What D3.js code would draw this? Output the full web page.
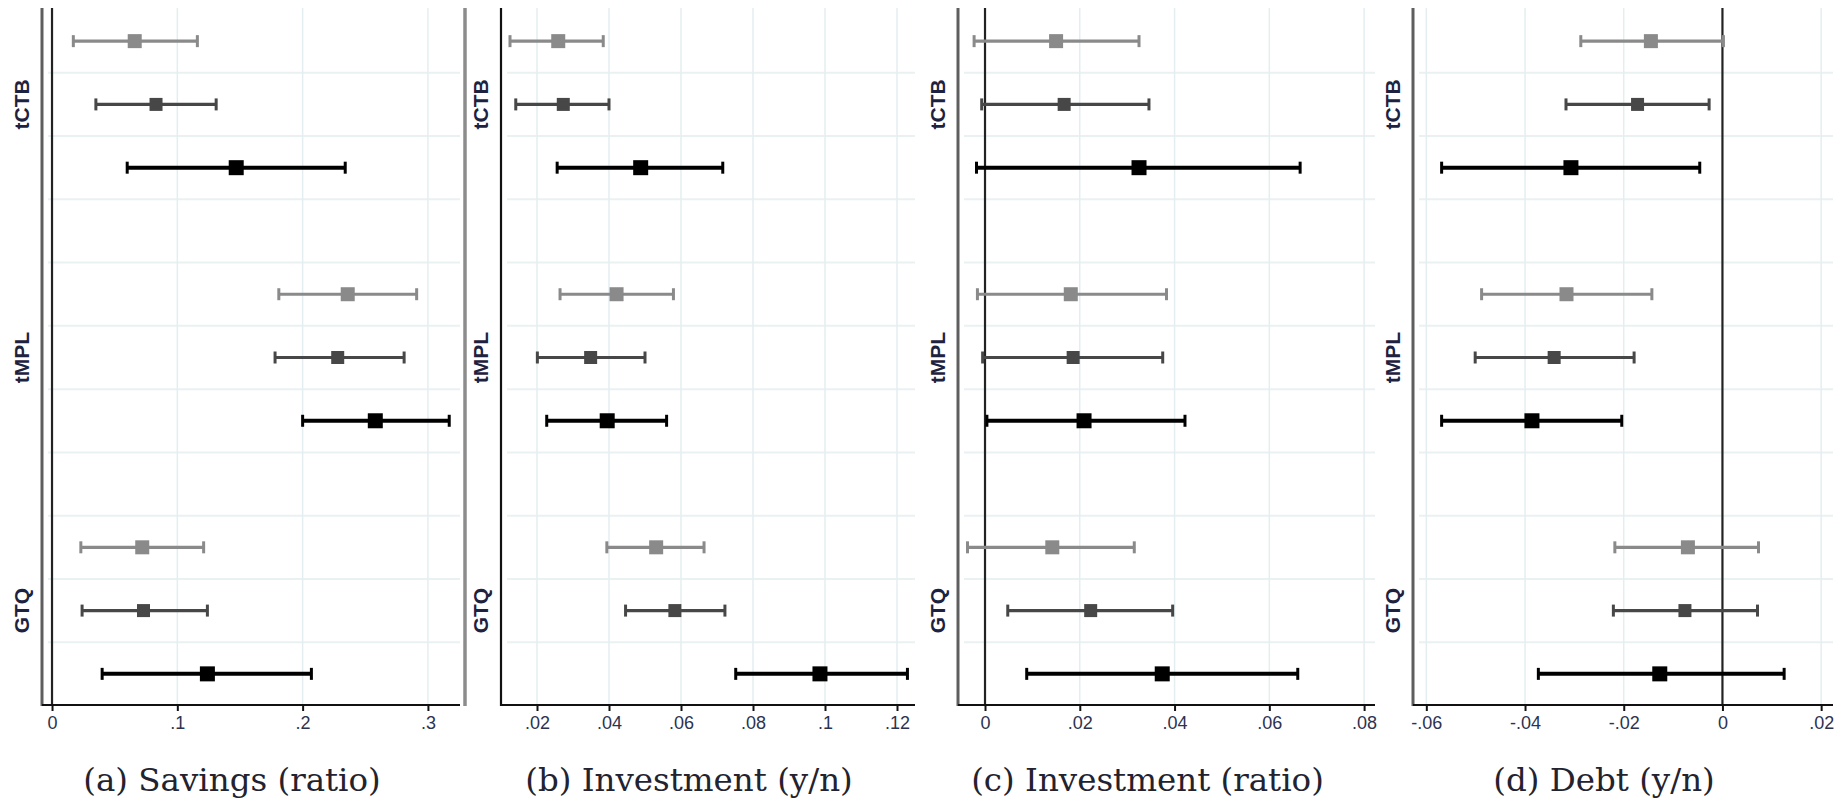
<!DOCTYPE html>
<html>
<head>
<meta charset="utf-8">
<script src="https://cdn.jsdelivr.net/npm/d3@7"></script>
<style>
  html, body { margin: 0; padding: 0; background: #fff; }
  svg { display: block; }
</style>
</head>
<body>
<svg id="chart" width="1846" height="803"></svg>
<script>
// Treatment groups (rows) and the three specifications shown inside each group
const groups = ["tCTB", "tMPL", "GTQ"];
const specs = ["spec1", "spec2", "spec3"];

// (a) Savings (ratio)
const savingsEst = [0.066, 0.083, 0.147, 0.236, 0.228, 0.258, 0.072, 0.073, 0.124];
const savingsLo  = [0.017, 0.035, 0.060, 0.181, 0.178, 0.200, 0.023, 0.024, 0.040];
const savingsHi  = [0.116, 0.131, 0.234, 0.291, 0.281, 0.317, 0.121, 0.124, 0.207];
const savingsTicks  = [0, 0.1, 0.2, 0.3];
const savingsLabels = ["0", ".1", ".2", ".3"];

// (b) Investment (y/n)
const invYnEst = [0.0259, 0.0273, 0.0488, 0.0421, 0.0349, 0.0395, 0.0531, 0.0583, 0.0986];
const invYnLo  = [0.0125, 0.0141, 0.0256, 0.0264, 0.0201, 0.0227, 0.0394, 0.0446, 0.0752];
const invYnHi  = [0.0384, 0.0400, 0.0716, 0.0579, 0.0500, 0.0560, 0.0664, 0.0722, 0.1229];
const invYnTicks  = [0.02, 0.04, 0.06, 0.08, 0.1, 0.12];
const invYnLabels = [".02", ".04", ".06", ".08", ".1", ".12"];

// (c) Investment (ratio)
const invRatioEst = [0.0150, 0.0167, 0.0325, 0.0181, 0.0186, 0.0209, 0.0142, 0.0223, 0.0374];
const invRatioLo  = [-0.0023, -0.0007, -0.0018, -0.0016, -0.0005, 0.0004, -0.0037, 0.0048, 0.0088];
const invRatioHi  = [0.0325, 0.0346, 0.0665, 0.0383, 0.0375, 0.0422, 0.0315, 0.0396, 0.0660];
const invRatioTicks  = [0, 0.02, 0.04, 0.06, 0.08];
const invRatioLabels = ["0", ".02", ".04", ".06", ".08"];

// (d) Debt (y/n)
const debtEst = [-0.0145, -0.0172, -0.0307, -0.0316, -0.0341, -0.0386, -0.0070, -0.0076, -0.0127];
const debtLo  = [-0.0287, -0.0317, -0.0569, -0.0488, -0.0501, -0.0569, -0.0218, -0.0221, -0.0373];
const debtHi  = [0.0002, -0.0027, -0.0046, -0.0143, -0.0179, -0.0204, 0.0073, 0.0071, 0.0125];
const debtTicks  = [-0.06, -0.04, -0.02, 0, 0.02];
const debtLabels = ["-.06", "-.04", "-.02", "0", ".02"];

const titles = ["(a) Savings (ratio)", "(b) Investment (y/n)", "(c) Investment (ratio)", "(d) Debt (y/n)"];

// Panel layout: x-domain plus pixel extent of each plot region
const panels = [
  { title: titles[0], est: savingsEst, lo: savingsLo, hi: savingsHi, ticks: savingsTicks, labels: savingsLabels,
    domain: [-0.008, 0.3256], x0: 42, x1: 460 },
  { title: titles[1], est: invYnEst, lo: invYnLo, hi: invYnHi, ticks: invYnTicks, labels: invYnLabels,
    domain: [0.010, 0.125], x0: 501, x1: 915 },
  { title: titles[2], est: invRatioEst, lo: invRatioLo, hi: invRatioHi, ticks: invRatioTicks, labels: invRatioLabels,
    domain: [-0.0057, 0.0823], x0: 958, x1: 1375 },
  { title: titles[3], est: debtEst, lo: debtLo, hi: debtHi, ticks: debtTicks, labels: debtLabels,
    domain: [-0.0627, 0.0224], x0: 1413, x1: 1833 }
];

// Marker styles per specification
const specStyle = [
  { color: "#8a8a8a", lw: 3.2, size: 14 },
  { color: "#474747", lw: 3.2, size: 13 },
  { color: "#000000", lw: 4,   size: 15 }
];

const plotTop = 8, plotBottom = 705;

// 11 row slots: three per group with an empty slot between groups
const slots = [];
groups.forEach((g, gi) => {
  specs.forEach(s => slots.push(g + "|" + s));
  if (gi < groups.length - 1) slots.push("gap" + gi);
});
const y = d3.scaleBand().domain(slots).range([plotTop + 1.5, plotBottom + 0.5]).padding(0);
const rowY = (gi, si) => y(groups[gi] + "|" + specs[si]) + y.bandwidth() / 2;

const svg = d3.select("#chart");

panels.forEach(p => {
  const x = d3.scaleLinear().domain(p.domain).range([p.x0, p.x1]);
  const g = svg.append("g");
  const zeroIn = 0 >= p.domain[0] && 0 <= p.domain[1];

  // horizontal grid at slot boundaries
  g.append("g").selectAll("line")
    .data(slots.slice(1))
    .join("line")
    .attr("x1", p.x0 + 6).attr("x2", p.x1)
    .attr("y1", d => y(d)).attr("y2", d => y(d))
    .attr("stroke", "#eaf1f3").attr("stroke-width", 2);

  // vertical grid at ticks
  g.append("g").selectAll("line")
    .data(p.ticks.filter(t => t !== 0))
    .join("line")
    .attr("x1", d => x(d)).attr("x2", d => x(d))
    .attr("y1", plotTop).attr("y2", plotBottom)
    .attr("stroke", "#e4eef1").attr("stroke-width", 1.5);

  // left axis line and zero reference line
  g.append("line")
    .attr("x1", p.x0).attr("x2", p.x0).attr("y1", plotTop).attr("y2", plotBottom + 1)
    .attr("stroke", zeroIn ? "#5e5e5e" : "#111").attr("stroke-width", zeroIn ? 3 : 2.2);
  g.append("line")
    .attr("x1", x(0)).attr("x2", x(0)).attr("y1", plotTop).attr("y2", plotBottom + 1)
    .attr("stroke", zeroIn ? "#222" : "#8c8c8c").attr("stroke-width", zeroIn ? 2.2 : 3.5);

  // x axis
  const axis = d3.axisBottom(x).tickValues(p.ticks)
    .tickFormat((d, i) => p.labels[i]).tickSize(6).tickPadding(5);
  const ax = g.append("g").attr("transform", `translate(0,${plotBottom})`).call(axis);
  ax.select(".domain").attr("d", `M${p.x0},0H${p.x1}`).attr("stroke", "#111").attr("stroke-width", 2.2);
  ax.selectAll(".tick line").attr("stroke", "#111").attr("stroke-width", 2);
  ax.selectAll(".tick text")
    .attr("font-family", "Liberation Sans, Arial, sans-serif")
    .attr("font-size", 18).attr("fill", "#2c3350");

  // group labels on the y axis
  groups.forEach((grp, gi) => {
    const cy = rowY(gi, 1);
    g.append("text")
      .attr("transform", `translate(${p.x0 - 21},${cy}) rotate(-90)`)
      .attr("text-anchor", "middle").attr("dominant-baseline", "central")
      .attr("font-family", "Liberation Sans, Arial, sans-serif")
      .attr("font-weight", "bold").attr("font-size", 21).attr("fill", "#1d2240")
      .text(grp);
  });

  // confidence intervals with caps and square markers
  const rows = [];
  groups.forEach((grp, gi) => specs.forEach((s, si) => {
    const k = gi * 3 + si;
    rows.push({ gi, si, est: p.est[k], lo: p.lo[k], hi: p.hi[k] });
  }));
  const m = g.append("g").selectAll("g").data(rows).join("g");
  m.append("line")
    .attr("x1", d => x(d.lo)).attr("x2", d => x(d.hi))
    .attr("y1", d => rowY(d.gi, d.si)).attr("y2", d => rowY(d.gi, d.si))
    .attr("stroke", d => specStyle[d.si].color).attr("stroke-width", d => specStyle[d.si].lw);
  ["lo", "hi"].forEach(end => {
    m.append("line")
      .attr("x1", d => x(d[end])).attr("x2", d => x(d[end]))
      .attr("y1", d => rowY(d.gi, d.si) - 6).attr("y2", d => rowY(d.gi, d.si) + 6)
      .attr("stroke", d => specStyle[d.si].color).attr("stroke-width", 3);
  });
  m.append("rect")
    .attr("x", d => x(d.est) - specStyle[d.si].size / 2)
    .attr("y", d => rowY(d.gi, d.si) - specStyle[d.si].size / 2)
    .attr("width", d => specStyle[d.si].size).attr("height", d => specStyle[d.si].size)
    .attr("fill", d => specStyle[d.si].color);

  // panel caption
  g.append("text")
    .attr("x", (p.x0 + p.x1) / 2 - 19).attr("y", 791)
    .attr("text-anchor", "middle")
    .attr("font-family", "DejaVu Serif, serif").attr("font-size", 32.5).attr("fill", "#23232f")
    .text(p.title);
});
</script>
</body>
</html>
